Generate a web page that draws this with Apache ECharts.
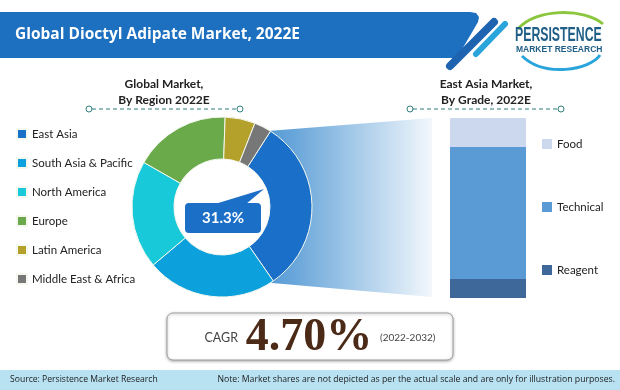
<!DOCTYPE html>
<html><head><meta charset="utf-8">
<script src="https://cdn.jsdelivr.net/npm/echarts@6/dist/echarts.min.js"></script>
<style>html,body{margin:0;padding:0;background:#fff}#c{width:620px;height:390px}</style>
</head><body><div id="c"></div>
<script>
const regionNames = ['East Asia','South Asia & Pacific','North America','Europe','Latin America','Middle East & Africa'];
const regionShares = [31.3, 23.5, 19.4, 17.3, 5.4, 3.1];
const regionColors = ['#1a6fc9','#0ca0dc','#17c9d9','#6aaa4b','#b3a12c','#777777'];
const gradeNames = ['Food','Technical','Reagent'];
const gradeShares = [16.1, 73.3, 10.6];
const gradeColors = ['#cbd8ee','#5b9bd5','#3e6899'];
const highlightLabel = '31.3%';
const cagrText = '4.70%';

const chart = echarts.init(document.getElementById('c'), null, {renderer:'canvas'});
const font = 'Lato, "Liberation Sans", sans-serif';

// stacked bar: bottom to top = Reagent, Technical, Food
const barOrder = [2,1,0];
const barSeries = barOrder.map(i => ({
  name: gradeNames[i], type:'bar', stack:'g', barWidth:76,
  data:[gradeShares[i]], itemStyle:{color:gradeColors[i]}, silent:true, z:5
}));

function dashed(x1,x2,y){
  return [
    {type:'line', shape:{x1:x1+3,y1:y,x2:x2-3,y2:y}, style:{stroke:'#2f7f7c', lineWidth:1, lineDash:[4,3]}},
    {type:'circle', shape:{cx:x1,cy:y,r:3}, style:{fill:'#fff', stroke:'#2f7f7c', lineWidth:1}},
    {type:'circle', shape:{cx:x2,cy:y,r:3}, style:{fill:'#fff', stroke:'#2f7f7c', lineWidth:1}}
  ];
}

const option = {
  animation:false,
  backgroundColor:'#fff',
  grid:{left:450, top:118, width:76, height:180},
  xAxis:{type:'category', data:['East Asia'], show:false},
  yAxis:{type:'value', min:0, max:100, show:false},
  legend:[
    {data:regionNames, orient:'vertical', left:11, top:123, itemWidth:10, itemHeight:10, itemGap:17,
     icon:'rect', textStyle:{fontFamily:font, fontSize:11.5, color:'#222'}, selectedMode:false},
    {data:gradeNames, orient:'vertical', left:537, top:133, itemWidth:10, itemHeight:10, itemGap:51,
     icon:'rect', textStyle:{fontFamily:font, fontSize:11.5, color:'#222'}, selectedMode:false}
  ],
  series:[
    {type:'pie', name:'Region', center:[222,207], radius:[48,90], startAngle:57.4, clockwise:true,
     label:{show:false}, labelLine:{show:false}, silent:true, z:5,
     itemStyle:{borderColor:'#f4f8ee', borderWidth:1},
     data: regionNames.map((n,i)=>({name:n, value:regionShares[i], itemStyle:{color:regionColors[i]}}))},
    ...barSeries
  ],
  graphic:[
    // header banner
    {type:'polygon', z:1, shape:{points:[[0,12],[470,12],[476,13],[479,17],[478,22],[457,58],[0,58]]}, style:{fill:'#1d6fbf'}},
    {type:'line', z:1, shape:{x1:494,y1:22,x2:450,y2:66}, style:{stroke:'#1d63b0', lineWidth:8, lineCap:'round'}},
    {type:'line', z:1, shape:{x1:505,y1:24,x2:476,y2:54}, style:{stroke:'#2aa5dc', lineWidth:6, lineCap:'round'}},
    {type:'text', z:2, x:15, y:35, style:{text:'Global Dioctyl Adipate Market, 2022E', fill:'#fff', font:'bold 15.5px "Open Sans", sans-serif', verticalAlign:'middle'}},
    // logo
    {type:'bezierCurve', z:2, shape:{x1:518,y1:29,cpx1:535,cpy1:8,cpx2:585,cpy2:8,x2:603,y2:24}, style:{stroke:'#8cc63f', lineWidth:3, fill:null}},
    {type:'bezierCurve', z:2, shape:{x1:522,y1:56,cpx1:545,cpy1:78,cpx2:590,cpy2:70,x2:600,y2:55}, style:{stroke:'#2aa5dc', lineWidth:3, fill:null}},
    {type:'text', z:3, x:515, y:35, scaleX:0.585, style:{text:'PERSISTENCE', fill:'#1f5e86', font:'bold 21px "Liberation Sans", sans-serif', verticalAlign:'middle'}},
    {type:'text', z:3, x:516, y:50, style:{text:'MARKET RESEARCH', fill:'#1f5e86', font:'bold 8.5px "Liberation Sans", sans-serif', verticalAlign:'middle'}},
    // section titles
    {type:'text', z:2, x:164, y:76, style:{text:'Global Market,\nBy Region 2022E', fill:'#222', font:'bold 12px ' + font, align:'center', lineHeight:16}},
    {type:'text', z:2, x:486, y:76, style:{text:'East Asia Market,\nBy Grade, 2022E', fill:'#222', font:'bold 12px ' + font, align:'center', lineHeight:16}},
    ...dashed(89,240,109),
    ...dashed(410,561,109),
    // funnel gradient
    {type:'polygon', z:0, shape:{points:[[222,207],[268,131],[432,118],[432,297],[272,283]]},
     style:{fill:new echarts.graphic.LinearGradient(0,0,1,0,[{offset:0,color:'#3384cc'},{offset:0.35,color:'#6aa7da'},{offset:1,color:'#f2f7fc'}])}},
    {type:'circle', z:1, shape:{cx:222, cy:207, r:49}, style:{fill:'#fff'}},
    // callout
    {type:'polygon', z:20, shape:{points:[[215,204],[264,189],[246,204]]}, style:{fill:'#1b6fc6'}},
    {type:'rect', z:20, shape:{x:185,y:203,width:76,height:30,r:4}, style:{fill:'#1b6fc6'}},
    {type:'text', z:21, x:223, y:218, style:{text:highlightLabel, fill:'#fff', font:'bold 15px ' + font, align:'center', verticalAlign:'middle'}},
    // CAGR box
    {type:'rect', z:2, shape:{x:167,y:313,width:286,height:47,r:6}, style:{fill:'#fff', stroke:'#a0a0a0', lineWidth:1, shadowBlur:3, shadowColor:'rgba(0,0,0,0.3)', shadowOffsetY:1}},
    {type:'text', z:3, x:238, y:338, style:{text:'CAGR', fill:'#444', font:'12.5px ' + font, align:'right', verticalAlign:'middle'}},
    {type:'text', z:3, x:309, y:338, style:{text:cagrText, fill:'#4b2a17', font:'bold 46px "Liberation Serif", serif', align:'center', verticalAlign:'middle'}},
    {type:'text', z:3, x:380, y:338, style:{text:'(2022-2032)', fill:'#444', font:'10px ' + font, align:'left', verticalAlign:'middle'}},
    // footer
    {type:'rect', z:1, shape:{x:0,y:370,width:620,height:20}, style:{fill:'#b8e2f2'}},
    {type:'text', z:2, x:10, y:380, style:{text:'Source: Persistence Market Research', fill:'#222', font:'8.6px "Open Sans", sans-serif', verticalAlign:'middle'}},
    {type:'text', z:2, x:615, y:380, style:{text:'Note: Market shares are not depicted as per the actual scale and are only for illustration purposes.', fill:'#222', font:'8.7px "Open Sans", sans-serif', align:'right', verticalAlign:'middle'}}
  ]
};
chart.setOption(option);
</script></body></html>
